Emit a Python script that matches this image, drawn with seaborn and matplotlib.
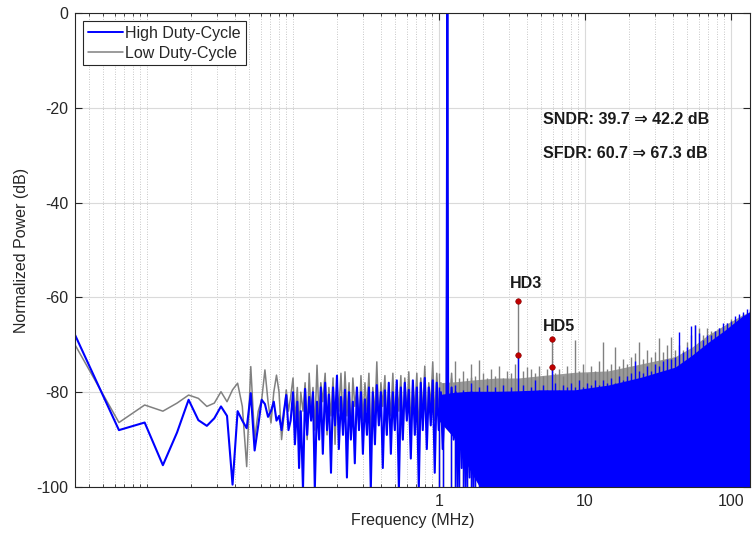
import matplotlib
matplotlib.use("Agg")
import matplotlib.pyplot as plt
from matplotlib.lines import Line2D
from matplotlib.ticker import FixedLocator, FixedFormatter, LogLocator, NullFormatter
import seaborn as sns
import pandas as pd

# FFT bin spacing (MHz)
DF_MHZ = 0.00321

# first bins, read one by one
low_bins = [1, 2, 3, 4, 5, 6, 7, 8, 9, 10,
            11, 12, 13, 14, 15, 16, 17, 18, 19, 20,
            21, 22, 23, 24, 25, 26, 27, 28, 29, 30]
low_high_db = [-67.9, -88.0, -86.4, -95.4, -88.5, -81.6, -85.9, -87.1, -85.5, -83.0,
               -85.0, -99.5, -84.0, -86.0, -87.6, -80.2, -92.3, -87.0, -81.6, -82.5,
               -85.2, -84.0, -82.0, -86.0, -85.0, -88.0, -84.0, -80.6, -88.0, -86.0]
low_low_db = [-70.0, -86.4, -82.7, -84.0, -82.3, -80.6, -81.3, -83.0, -82.3, -79.9,
              -82.0, -79.5, -78.1, -83.0, -95.7, -74.6, -90.0, -84.0, -81.6, -75.3,
              -82.0, -86.5, -80.0, -76.4, -80.0, -90.0, -85.0, -79.5, -84.0, -81.0]

# 0.1 MHz .. 1.8 MHz (fundamental included)
mid_freq = [0.100, 0.103, 0.107, 0.110, 0.113, 0.117, 0.121, 0.125, 0.129, 0.133,
            0.137, 0.141, 0.146, 0.151, 0.155, 0.160, 0.166, 0.171, 0.176, 0.182,
            0.188, 0.194, 0.200, 0.206, 0.213, 0.220, 0.227, 0.234, 0.242, 0.249,
            0.257, 0.265, 0.274, 0.283, 0.292, 0.301, 0.311, 0.321, 0.331, 0.341,
            0.352, 0.364, 0.375, 0.387, 0.400, 0.412, 0.426, 0.439, 0.453, 0.468,
            0.483, 0.498, 0.514, 0.531, 0.548, 0.565, 0.583, 0.602, 0.621, 0.641,
            0.662, 0.683, 0.705, 0.727, 0.750, 0.774, 0.799, 0.825, 0.851, 0.878,
            0.906, 0.935, 0.965, 0.996,
            1.03, 1.06, 1.10, 1.125, 1.14, 1.155, 1.18, 1.22, 1.26, 1.30,
            1.34, 1.38, 1.43, 1.47, 1.52, 1.57, 1.62, 1.67, 1.72, 1.78]
mid_high_db = [-80, -91, -82, -96, -84, -100.5, -79.3, -89, -81, -86,
               -80, -100.5, -82, -90, -79, -93, -78, -88, -80.5, -97,
               -79, -87, -76.5, -92, -81, -89, -79.5, -98, -80, -90,
               -82, -95, -79, -88, -80, -93, -81.5, -89, -79, -100.5,
               -80, -91, -78.5, -87, -80, -96, -79.6, -89, -78, -93,
               -80, -88, -77.5, -100.5, -79, -90, -78, -86, -79.5, -94,
               -77.5, -89, -79, -100.5, -78, -88, -77, -92, -79, -87,
               -77.5, -97, -78, -88,
               -80, -92, -81, -82, 0, -80, -88, -79, -90, -80,
               -100.5, -82, -96, -81, -100.5, -83, -98, -80, -100.5, -82]
mid_low_db = [-77, -86, -79, -88, -80, -84, -78, -90, -76, -85,
              -79, -88, -74.3, -86, -78, -82, -76, -89, -79, -85,
              -77, -91, -78, -84, -76, -87, -75.7, -85, -78, -89,
              -77, -83, -79, -88, -76.5, -86, -78, -84, -76, -90,
              -79, -85, -73.6, -87, -78, -83, -76.5, -89, -79, -85,
              -76, -88, -78, -84, -76.5, -90, -77, -85, -75.7, -87,
              -78, -84, -76, -89, -77, -85, -74.5, -88, -78, -83,
              -73.6, -86, -76, -84,
              -78, -85, -79, -80, 0, -78, -84, -76, -86, -78,
              -90, -79, -94, -78, -88, -80, -97, -77, -92, -79]

# dense part above 1 MHz: solid body + spike tops
body_freq = [1.0, 1.3, 1.6, 1.9, 2.5, 3.5, 5.0, 8.5, 14.4, 24.5, 41.5, 54.0, 69.0, 91.0, 118.0, 135.0]
body_floor = [-86, -90, -96, -100, -100, -100, -100, -100, -100, -100, -100, -100, -100, -100, -100, -100]
body_high_db = [-80.5, -80, -79.8, -79.8, -79.8, -79.7, -79.5, -79.5, -78.5, -76.8, -74.7, -72.2, -69.6, -66.9, -64.1, -63]
body_low_db = [-78, -77.8, -77.5, -77.3, -77, -77, -76.5, -75.8, -75.5, -74, -72.5, -70.5, -68, -65.8, -63.8, -63]

spur_freq = [1.00, 1.07, 1.21, 1.29, 1.37, 1.46, 1.56, 1.66, 1.76, 1.88,
             2.00, 2.13, 2.27, 2.42, 2.58, 2.74, 2.92, 3.11, 3.31, 3.76,
             4.00, 4.27, 4.54, 4.84, 5.15, 5.49, 6.23, 6.63, 7.06, 7.52,
             8.01, 8.53, 9.09, 9.68, 10.3, 11.0, 11.7, 12.5, 13.3, 14.1,
             15.1, 16.0, 17.1, 18.2, 19.4, 20.6, 22.0, 23.4, 24.9, 26.6,
             28.3, 30.1, 32.1, 34.2, 36.4, 38.8, 41.3, 44.0, 46.8, 49.9,
             53.1, 56.6, 60.3, 64.2, 68.4, 72.8, 77.6, 82.6, 88.0, 93.7,
             99.8, 106, 113, 121, 128, 134]
spur_low_db = [-76, -78, -77, -73.5, -77, -75.5, -77, -74, -76.5, -73.2,
               -76, -77, -75, -76.5, -74.5, -77, -75.5, -76, -74, -75.5,
               -74.7, -75, -76, -74.5, -76.5, -75, -76, -75, -76.5, -74.5,
               -76, -69, -75.5, -74, -76, -74.5, -75.5, -73.5, -69.4, -75,
               -74, -70.5, -74.5, -73, -74, -72.5, -71.8, -69.4, -73, -71,
               -72.5, -71.5, -68.6, -71.5, -70, -68.3, -71, -70, -71, -69.5,
               -68, -65.8, -66.5, -68, -66.5, -67, -67, -66.5, -66, -65.5,
               -64.5, -64.5, -64, -63.5, -63, -62.8]
spur_high_db = [-79, -81, -80, -78.5, -81, -79.5, -80.5, -78, -80, -79,
                -80.5, -78.5, -80, -79, -80.5, -78.5, -80, -79, -80, -78.5,
                -80, -79, -77.5, -79.5, -78.5, -79.5, -78, -79.5, -78.5, -79,
                -78, -79, -77.5, -79, -78, -78.5, -77.5, -78.5, -77.5, -78,
                -77, -78, -76.5, -77.5, -76.5, -76, -73.5, -75.5, -76, -74.5,
                -75.5, -74, -74.5, -73.5, -73, -73, -72.5, -67.3, -71.5, -70.5,
                -66, -65.8, -67.5, -69, -68, -68, -67, -66.5, -65.5, -65.5,
                -65, -64, -63.5, -63, -62.5, -62.5]

# harmonics
harm_names = ["HD3", "HD5"]
harm_freq = [3.5, 5.9]
harm_low_db = [-60.7, -68.8]
harm_high_db = [-72.2, -74.7]

x_ticks = [1, 10, 100]
x_labels = ["1", "10", "100"]
y_ticks = [-100, -80, -60, -40, -20, 0]

C_HIGH = "#0000ff"
C_LOW = "#808080"
C_LOW_BODY = "#9a9a9a"
C_AXES = "#262626"
C_DOT = "#c00000"

sns.set_theme(style="ticks")
plt.rcParams["font.family"] = ["Liberation Sans", "DejaVu Sans"]
plt.rcParams["axes.unicode_minus"] = False
plt.rcParams["axes.axisbelow"] = True

df_low = pd.DataFrame({"freq": [b * DF_MHZ for b in low_bins] + mid_freq,
                       "power": low_low_db + mid_low_db})
df_high = pd.DataFrame({"freq": [b * DF_MHZ for b in low_bins] + mid_freq,
                        "power": low_high_db + mid_high_db})

fig = plt.figure(figsize=(7.55, 5.44), dpi=100)
ax = fig.add_axes([75 / 755, 1 - 487 / 544, 675 / 755, 474 / 544])

# low duty-cycle underneath
sns.lineplot(data=df_low, x="freq", y="power", color=C_LOW, lw=1.1,
             estimator=None, sort=False, ax=ax, zorder=2.0)
ax.fill_between(body_freq, body_floor, body_low_db, color=C_LOW_BODY, lw=0, zorder=2.1)
ax.vlines(spur_freq + harm_freq, -100, spur_low_db + harm_low_db, color=C_LOW, lw=1.0, zorder=2.2)

# high duty-cycle on top
sns.lineplot(data=df_high, x="freq", y="power", color=C_HIGH, lw=1.5,
             estimator=None, sort=False, ax=ax, zorder=2.3)
ax.fill_between(body_freq, body_floor, body_high_db, color=C_HIGH, lw=0, zorder=2.4)
ax.vlines(spur_freq + harm_freq, -100, spur_high_db + harm_high_db, color=C_HIGH, lw=1.0, zorder=2.5)

ax.scatter(harm_freq + harm_freq, harm_low_db + harm_high_db, s=16, color=C_DOT,
           edgecolors="#800000", linewidths=0.4, zorder=4)

ax.set_xscale("log")
ax.set_xlim(DF_MHZ, 135)
ax.set_ylim(-100, 0)
ax.xaxis.set_major_locator(FixedLocator(x_ticks))
ax.xaxis.set_major_formatter(FixedFormatter(x_labels))
ax.xaxis.set_minor_locator(LogLocator(base=10, subs=(1, 2, 3, 4, 5, 6, 7, 8, 9), numticks=60))
ax.xaxis.set_minor_formatter(NullFormatter())
ax.set_yticks(y_ticks)

ax.tick_params(which="both", direction="in", top=True, right=True, colors=C_AXES,
               labelsize=11.5, labelcolor=C_AXES, pad=5)
ax.tick_params(which="major", length=5, width=0.8)
ax.tick_params(which="minor", length=2.5, width=0.6)
ax.grid(which="major", color="#dadada", lw=0.8, ls="-")
ax.grid(which="minor", axis="x", color="#b5b5b5", lw=0.6, ls=(0, (1, 2)))
for s in ax.spines.values():
    s.set_color(C_AXES)
    s.set_linewidth(0.8)

ax.set_xlabel("Frequency (MHz)", fontsize=11.5, color=C_AXES, labelpad=3)
ax.set_ylabel("Normalized Power (dB)", fontsize=11.5, color=C_AXES, labelpad=5)

ax.text(5.16, -22.4, "SNDR: 39.7 \u21d2 42.2 dB", fontsize=11.5, fontweight="bold",
        ha="left", va="center", color="#1a1a1a")
ax.text(5.16, -29.7, "SFDR: 60.7 \u21d2 67.3 dB", fontsize=11.5, fontweight="bold",
        ha="left", va="center", color="#1a1a1a")
ax.text(3.94, -57.0, harm_names[0], fontsize=11.5, fontweight="bold",
        ha="center", va="center", color="#1a1a1a")
ax.text(6.64, -66.2, harm_names[1], fontsize=11.5, fontweight="bold",
        ha="center", va="center", color="#1a1a1a")

handles = [Line2D([], [], color=C_HIGH, lw=1.4), Line2D([], [], color=C_LOW, lw=1.1)]
leg = ax.legend(handles, ["High Duty-Cycle", "Low Duty-Cycle"], loc="upper left",
                frameon=True, fancybox=False, framealpha=1, edgecolor=C_AXES,
                fontsize=11.5, handlelength=2.2, handletextpad=0.15,
                labelspacing=0.3, borderpad=0.3, borderaxespad=0.5)
leg.get_frame().set_linewidth(0.8)

fig.savefig("out.png", dpi=100)
